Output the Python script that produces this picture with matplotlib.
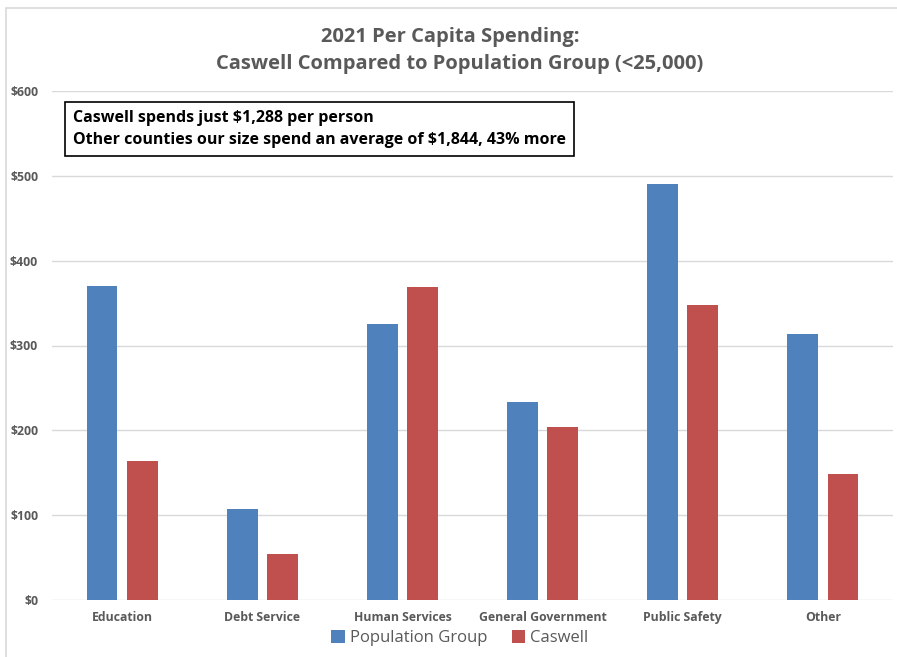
import matplotlib
matplotlib.use('Agg')
import matplotlib.pyplot as plt
import numpy as np

categories = ["Education", "Debt Service", "Human Services",
              "General Government", "Public Safety", "Other"]
population_group = [370, 107, 325, 233, 490, 314]
caswell = [164, 54, 369, 204, 348, 149]
yticks = [0, 100, 200, 300, 400, 500, 600]

BLUE = "#4f81bd"
RED = "#c0504d"
GRAY = "#595959"

plt.rcParams['font.family'] = ['Open Sans', 'DejaVu Sans']

fig = plt.figure(figsize=(8.97, 6.57), dpi=100)
W, H = 897, 657
ax = fig.add_axes([52 / W, 1 - 600 / H, 841 / W, 509 / H])

# outer chart frame (top and left edges visible)
fig.patches.append(plt.Rectangle((6 / W, -0.1), 2, 1 - 8 / H + 0.1,
                                 transform=fig.transFigure, fill=False,
                                 edgecolor="#d9d9d9", linewidth=1.2))

x = np.arange(len(categories))
w = 0.22
ax.bar(x - 0.143, population_group, w, color=BLUE, label="Population Group")
ax.bar(x + 0.143, caswell, w, color=RED, label="Caswell")

ax.set_xlim(-0.5, len(categories) - 0.5)
ax.set_ylim(0, 600)
ax.set_yticks(yticks)
ax.set_yticklabels(["${}".format(v) for v in yticks])
ax.set_xticks(x)
ax.set_xticklabels(categories)
ax.yaxis.grid(True, color="#d9d9d9", linewidth=1)
ax.set_axisbelow(True)
for s in ax.spines.values():
    s.set_visible(False)
ax.tick_params(axis='both', length=0, colors=GRAY, labelsize=8.8)
for lbl in ax.get_xticklabels() + ax.get_yticklabels():
    lbl.set_fontweight('bold')
ax.tick_params(axis='x', pad=8)
ax.tick_params(axis='y', pad=10)

fig.text(450 / W, 1 - 37 / H, "2021 Per Capita Spending:", ha='center',
         va='center', fontsize=14.5, fontweight='bold', color=GRAY)
fig.text(460 / W, 1 - 64 / H, "Caswell Compared to Population Group (<25,000)",
         ha='center', va='center', fontsize=14.5, fontweight='bold', color=GRAY)

fig.text(73 / W, 1 - 129 / H,
         "Caswell spends just $1,288 per person\n"
         "Other counties our size spend an average of $1,844, 43% more",
         ha='left', va='center', fontsize=11.5, fontweight='bold', color='black',
         linespacing=1.55,
         bbox=dict(boxstyle='square,pad=0.5', facecolor='white',
                   edgecolor='black', linewidth=1.2))

fig.legend(loc='center', bbox_to_anchor=(460 / W, 1 - 638 / H), ncol=2,
           frameon=False, fontsize=12, handlelength=0.8, handleheight=0.8,
           handletextpad=0.3, columnspacing=1.5, labelcolor=GRAY)

fig.savefig("out.png", dpi=100)
